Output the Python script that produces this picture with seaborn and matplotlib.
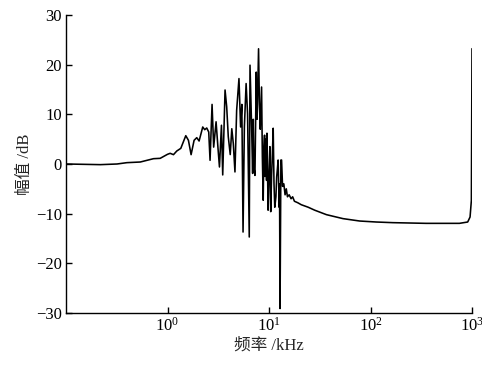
import numpy as np
import pandas as pd
import matplotlib
matplotlib.use("Agg")
import matplotlib.pyplot as plt
import seaborn as sns
from matplotlib.ticker import NullLocator, FixedLocator

# frequency (kHz)
freq_khz = [0.101, 0.218, 0.318, 0.398, 0.539, 0.728, 0.847, 1.0, 1.062, 1.145,
            1.235, 1.352, 1.514, 1.608, 1.708, 1.828, 1.942, 2.048, 2.224, 2.327,
            2.435, 2.548, 2.626, 2.748, 2.85, 3.01, 3.147, 3.25, 3.40, 3.50,
            3.69, 3.83, 3.97, 4.15, 4.30, 4.45, 4.62, 4.80, 5.06, 5.25,
            5.40, 5.55, 5.72, 5.95, 6.15, 6.39, 6.50, 6.74, 6.90, 7.0,
            7.1, 7.27, 7.49, 7.62, 7.72, 7.89, 8.05, 8.2, 8.45, 8.6,
            8.77, 8.9, 9.04, 9.1, 9.3, 9.46, 9.55, 9.8, 10.0, 10.2,
            10.4, 10.6, 10.8, 11.0, 11.2, 11.4, 11.7, 11.9, 12.1, 12.3,
            12.6, 12.7, 12.85, 13.1, 13.3, 13.6, 14.0, 14.4, 14.8, 15.2,
            15.8, 16.5, 17.1, 17.8, 19.2, 20.8, 24.3, 28.2, 36.8, 53.6,
            78.2, 114, 166, 353, 751, 907, 957, 986, 1000]
# magnitude (dB)
mag_db = [0.0, -0.13, 0.0, 0.27, 0.40, 1.07, 1.14, 1.95, 2.15, 1.88,
          2.62, 3.15, 5.70, 4.77, 1.88, 4.77, 5.30, 4.63, 7.45, 6.91,
          7.25, 6.44, 0.74, 12.0, 3.4, 8.5, 3.09, -0.6, 7.8, -2.2,
          14.9, 11.5, 5.5, 1.9, 7.1, 4.1, -1.6, 10.8, 17.2, 7.45,
          12.0, -13.7, 7.5, 16.2, 10.1, -14.7, 19.9, 7.45, -1.9, 9.0,
          -0.6, -2.3, 18.5, 9.0, 13.0, 23.2, 12.0, 7.0, 15.5, 1.5,
          -7.3, 3.0, 5.8, -2.5, 5.0, -3.3, 6.2, -9.3, -2.3, 3.5,
          -9.6, -2.3, 2.0, 7.2, -3.9, -8.7, -6.6, -2.6, -1.0, 0.8,
          -8.7, -4.0, -29.1, 0.8, 0.8, -4.5, -4.0, -6.2, -5.0, -6.6,
          -6.2, -7.0, -6.6, -7.5, -7.8, -8.2, -8.7, -9.3, -10.2, -11.0,
          -11.48, -11.68, -11.81, -11.95, -11.95, -11.68, -10.67, -7.32, 23.22]

x_ticks = [1, 10, 100, 1000]
x_labels = ["$10^{0}$", "$10^{1}$", "$10^{2}$", "$10^{3}$"]
y_ticks = [-30, -20, -10, 0, 10, 20, 30]

df = pd.DataFrame({"f": freq_khz, "m": mag_db})

sns.set_style("ticks")
plt.rcParams["font.family"] = ["Liberation Serif", "Noto Sans CJK SC", "DejaVu Sans"]
plt.rcParams["mathtext.fontset"] = "custom"
plt.rcParams["mathtext.rm"] = "Liberation Serif"
plt.rcParams["mathtext.it"] = "Liberation Serif"

fig = plt.figure(figsize=(4.82, 3.70), dpi=100)
ax = fig.add_axes([66/482, 57/370, 406/482, 298/370])

sns.lineplot(data=df, x="f", y="m", ax=ax, color="black", linewidth=1.15,
             sort=False, estimator=None)

ax.set_xscale("log")
ax.set_xlim(0.1, 1000)
ax.set_ylim(-30, 30)
ax.xaxis.set_major_locator(FixedLocator(x_ticks))
ax.xaxis.set_minor_locator(NullLocator())
ax.set_xticklabels(x_labels)
ax.set_yticks(y_ticks)
ax.set_yticklabels([str(v).replace("-", "\u2212") for v in y_ticks])

for s in ["top", "right"]:
    ax.spines[s].set_visible(False)
for s in ["left", "bottom"]:
    ax.spines[s].set_linewidth(1.0)
    ax.spines[s].set_color("black")

ax.tick_params(axis="both", direction="in", length=4, width=1.0,
               labelsize=12, colors="black", pad=3)

ax.set_xlabel("频率 /kHz", fontsize=12, labelpad=2)
ax.set_ylabel("幅值 /dB", fontsize=12, labelpad=2)

fig.savefig("out.png", dpi=100)
